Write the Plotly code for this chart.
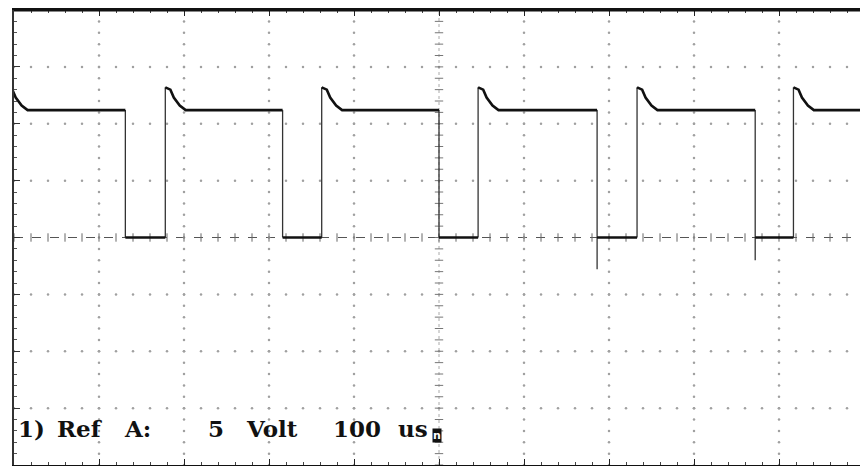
import numpy as np
import plotly.graph_objects as go

# ---- data (time in us, voltage in V) ----
rise_times = [-8, 178, 362, 546, 733, 917]
fall_times = [131, 316, 500, 686, 872]
fall_undershoot = [0.0, 0.0, 0.0, -2.8, -2.0]
high_level = 11.2
low_level = 0.0
overshoot_dt = [0, 6, 10, 17, 24]
overshoot_v = [13.2, 13.0, 12.3, 11.6, 11.2]

label_words = ["1)", "Ref", "A:", "5", "Volt", "100", "us"]
label_x = [21, 78, 145, 238, 303, 403, 469]

T_DIV = 100   # us / div
V_DIV = 5     # V / div
X_END = 995.3

# ---- build waveform from the edge lists ----
lvl_x, lvl_y = [], []
edge_x, edge_y = [], []
for i, r in enumerate(rise_times):
    end = fall_times[i] if i < len(fall_times) else X_END
    for dt, v in zip(overshoot_dt, overshoot_v):
        lvl_x.append(r + dt); lvl_y.append(v)
    lvl_x.append(end); lvl_y.append(high_level)
    lvl_x.append(None); lvl_y.append(None)
    edge_x += [r, r, None]; edge_y += [low_level, overshoot_v[0], None]
for i, f in enumerate(fall_times):
    nxt = rise_times[i + 1] if i + 1 < len(rise_times) else X_END
    lvl_x += [f, nxt, None]; lvl_y += [low_level, low_level, None]
    edge_x += [f, f, None]; edge_y += [high_level, min(low_level, fall_undershoot[i]), None]

fig = go.Figure()

# ---- graticule dots ----
gx, gy = [], []
for t in np.arange(T_DIV, 1000, T_DIV):
    if t == 500:
        continue
    for v in np.arange(-20, 20.01, 1):
        gx.append(t); gy.append(v)
for v in np.arange(-15, 16, V_DIV):
    if v == 0:
        continue
    for t in np.arange(0, 1000, 20):
        gx.append(t); gy.append(v)
fig.add_trace(go.Scatter(x=gx, y=gy, mode="markers",
                         marker=dict(size=2.5, color="#a0a0a0"),
                         hoverinfo="skip", showlegend=False))

# centre-line ticks
cv = np.arange(-20, 20.01, 1)
fig.add_trace(go.Scatter(x=[500] * len(cv), y=cv, mode="markers",
                         marker=dict(symbol="line-ew", size=6, line=dict(width=1, color="#777")),
                         hoverinfo="skip", showlegend=False))
ct = np.arange(0, 1000, 20)
fig.add_trace(go.Scatter(x=ct, y=[0] * len(ct), mode="markers",
                         marker=dict(symbol="line-ns", size=6, line=dict(width=1, color="#666")),
                         hoverinfo="skip", showlegend=False))

# ---- waveform ----
fig.add_trace(go.Scatter(x=edge_x, y=edge_y, mode="lines",
                         line=dict(color="#333", width=1.3),
                         hoverinfo="skip", showlegend=False))
fig.add_trace(go.Scatter(x=lvl_x, y=lvl_y, mode="lines",
                         line=dict(color="#111", width=2.6),
                         hoverinfo="skip", showlegend=False))

# ---- shapes: centre lines and thick top border ----
fig.add_shape(type="line", x0=0, x1=X_END, y0=0, y1=0, xref="x", yref="y",
              line=dict(color="#555", width=1, dash="dash"), layer="below")
fig.add_shape(type="line", x0=500, x1=500, y0=-20, y1=20, xref="x", yref="y",
              line=dict(color="#aaa", width=1, dash="dot"), layer="below")
fig.add_shape(type="line", x0=0, x1=X_END, y0=20, y1=20, xref="x", yref="y",
              line=dict(color="#111", width=3))

# ---- label text ----
for w, x in zip(label_words, label_x):
    fig.add_annotation(x=x, y=-16.8, text=w, showarrow=False, xref="x", yref="y",
                       xanchor="center", yanchor="middle",
                       font=dict(family="DejaVu Serif", size=23, color="#111", weight="bold"))
fig.add_annotation(x=497.5, y=-17.4, text="n", showarrow=False, xref="x", yref="y",
                   font=dict(family="DejaVu Sans", size=11, color="#fff", weight="bold"),
                   bgcolor="#111", borderpad=0)

fig.update_xaxes(range=[0, X_END], showgrid=False, zeroline=False,
                 showline=True, linecolor="#111", linewidth=2, mirror="ticks",
                 ticks="inside", tick0=0, dtick=T_DIV, ticklen=6, tickcolor="#222",
                 minor=dict(ticks="inside", dtick=20, ticklen=3, tickcolor="#444"),
                 showticklabels=False)
fig.update_yaxes(range=[-20, 20], showgrid=False, zeroline=False,
                 showline=True, linecolor="#333", linewidth=1.5,
                 ticks="inside", tick0=0, dtick=V_DIV, ticklen=6, tickcolor="#333",
                 minor=dict(ticks="inside", dtick=1, ticklen=3, tickcolor="#555"),
                 showticklabels=False)

fig.update_layout(width=860, height=466,
                  margin=dict(l=14, r=0, t=10, b=1),
                  plot_bgcolor="white", paper_bgcolor="white")

fig.write_html("out.html", config={"displayModeBar": False},
               post_script="document.body.style.margin='0';document.body.style.overflow='hidden';")
